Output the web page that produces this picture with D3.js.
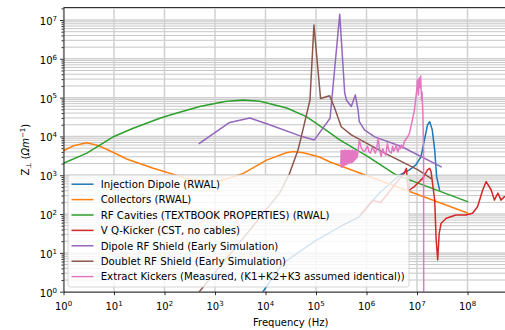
<!DOCTYPE html>
<html>
<head>
<meta charset="utf-8">
<script src="https://cdn.jsdelivr.net/npm/d3@7"></script>
<style>
  html, body { margin: 0; padding: 0; background: #fff; }
  svg { display: block; font-family: "DejaVu Sans", sans-serif; }
</style>
</head>
<body>
<svg id="chart" width="505" height="330"></svg>
<script>
// Transverse impedance budget: [frequency (Hz), Z_perp (Ohm/m)] per element

const injectionDipole = [
  [8.9e3, 1.0], [2.2e4, 5.4], [1.0e5, 21], [3.4e5, 52], [7.2e5, 85],
  [1.8e6, 350], [4.5e6, 1000], [7.1e6, 1380], [9.5e6, 1860], [1.2e7, 3000],
  [1.4e7, 8100], [1.62e7, 2.0e4], [1.78e7, 2.4e4], [2.0e7, 1.5e4],
  [2.24e7, 4500], [2.45e7, 910], [2.8e7, 420]
];

const collectors = [
  [1, 4270], [1.58, 5750], [2.9, 6900], [5.0, 5750], [10, 3800], [17.8, 2630],
  [60, 1510], [275, 830], [794, 690], [1260, 710], [3630, 1120], [1.05e4, 2450],
  [2.57e4, 3800], [3.55e4, 4070], [5.6e4, 3800], [1.17e5, 2950], [1.9e5, 2190],
  [1e8, 107]
];

const rfCavities = [
  [1, 2040], [2.9, 3720], [10, 1.0e4], [24, 1.62e4], [81, 2.95e4], [129, 3.55e4],
  [500, 5.9e4], [1585, 7.9e4], [3630, 8.7e4], [7760, 8.1e4], [2.63e4, 5.4e4],
  [6.46e4, 3.24e4], [1.58e5, 1.45e4], [2.95e5, 8130], [1.07e6, 3020],
  [3.63e6, 1070], [7.08e6, 760], [1e8, 209]
];

const vQKicker = [
  [7.9e5, 100], [1.32e6, 229], [1.9e6, 195], [4.0e6, 676], [5.6e6, 1150],
  [6.17e6, 1510], [6.6e6, 447], [7.08e6, 417], [8.9e6, 513], [1.29e7, 832],
  [1.62e7, 1380], [1.78e7, 1510], [1.9e7, 1230], [2.24e7, 229], [2.4e7, 21],
  [2.57e7, 6.6], [2.75e7, 32], [3.0e7, 58], [3.8e7, 78], [5.9e7, 95],
  [9.3e7, 95], [1.26e8, 105], [1.58e8, 155], [2.0e8, 417], [2.34e8, 690],
  [2.95e8, 417], [3.4e8, 229], [4.0e8, 347], [4.6e8, 229], [5.4e8, 282],
  [6.8e8, 251]
];

const dipoleShield = [
  [490, 6600], [1950, 2.29e4], [4900, 3.0e4], [1.2e4, 2.0e4], [5.5e4, 9770],
  [9.3e4, 8130], [1.9e5, 2.95e4], [2.95e5, 1.41e7], [3.7e5, 1.32e5],
  [4.0e5, 8.7e4], [5.0e5, 5.9e4], [6.0e5, 1.17e5], [6.8e5, 4.8e4],
  [7.2e5, 2.4e4], [9.1e5, 1.48e4], [1.45e6, 9770], [4.9e6, 5500], [3.0e7, 1660]
];

const doubletShield = [
  [490, 1.0], [1500, 6], [4900, 39], [1.9e4, 347], [3.0e4, 1120], [4.4e4, 4470],
  [5.1e4, 9770], [7.6e4, 8.7e4], [9.1e4, 7.4e6], [1.23e5, 9.5e4],
  [1.86e5, 1.12e5], [2.34e5, 5.4e4], [3.16e5, 1.78e4], [5.0e5, 1.1e4],
  [2.3e6, 3720], [1.05e7, 1380], [1.9e7, 832]
];

const extractKickers = [
  [3.1e5, 2000], [3.15e5, 4300], [3.2e5, 1600], [3.25e5, 4400], [3.3e5, 1700],
  [3.35e5, 4200], [3.4e5, 1650], [3.45e5, 4300], [3.5e5, 1650], [3.55e5, 3900],
  [3.6e5, 1750], [3.65e5, 4400], [3.7e5, 1800], [3.75e5, 4100], [3.8e5, 1900],
  [3.85e5, 4400], [3.9e5, 2000], [3.95e5, 3900], [4.0e5, 1900], [4.05e5, 4300],
  [4.1e5, 1900], [4.15e5, 4100], [4.2e5, 2000], [4.3e5, 4400], [4.35e5, 2100],
  [4.4e5, 4200], [4.5e5, 2000], [4.55e5, 4400], [4.65e5, 2100], [4.7e5, 4200],
  [4.8e5, 2200], [4.85e5, 4300], [4.95e5, 2200], [5.0e5, 4000], [5.1e5, 2100],
  [5.15e5, 4400], [5.25e5, 2200], [5.3e5, 4500], [5.4e5, 2300], [5.45e5, 4200],
  [5.55e5, 2300], [5.6e5, 4100], [5.7e5, 2400], [5.75e5, 4300], [5.85e5, 2500],
  [5.9e5, 4300], [6.0e5, 2600], [6.1e5, 4200], [6.2e5, 2700], [6.3e5, 4000],
  [6.4e5, 2800], [6.5e5, 3900], [6.6e5, 3000], [7.2e5, 8100], [7.9e5, 5000],
  [8.5e5, 4300], [9.1e5, 4070], [1.05e6, 5600], [1.12e6, 4000], [1.2e6, 3720],
  [1.3e6, 5200], [1.38e6, 4600], [1.5e6, 3720], [1.6e6, 5000], [1.7e6, 9100],
  [1.82e6, 4470], [1.95e6, 3020], [2.1e6, 4800], [2.2e6, 4070], [2.4e6, 3310],
  [2.6e6, 6600], [2.75e6, 4500], [2.9e6, 4000], [3.1e6, 3720], [3.3e6, 5600],
  [3.45e6, 4200], [3.6e6, 4470], [3.9e6, 6000], [4.05e6, 4500], [4.2e6, 4000],
  [4.5e6, 5400], [4.7e6, 4800], [4.9e6, 6000], [5.25e6, 5000], [5.6e6, 7400],
  [6.6e6, 1.0e4], [7.1e6, 1.23e4], [7.8e6, 2.1e4], [8.9e6, 4.8e4],
  [9.8e6, 1.4e5], [1.02e7, 2.9e5], [1.07e7, 1.17e5], [1.1e7, 3.2e5],
  [1.15e7, 1.8e5], [1.18e7, 3.6e5], [1.23e7, 8.7e4], [1.26e7, 1.4e5],
  [1.31e7, 3.5e4], [1.35e7, 4470], [1.36e7, 0.05]
];

const seriesNames = [
  "Injection Dipole (RWAL)",
  "Collectors (RWAL)",
  "RF Cavities (TEXTBOOK PROPERTIES) (RWAL)",
  "V Q-Kicker (CST, no cables)",
  "Dipole RF Shield (Early Simulation)",
  "Doublet RF Shield (Early Simulation)",
  "Extract Kickers (Measured, (K1+K2+K3 assumed identical))"
];
const seriesData = [injectionDipole, collectors, rfCavities, vQKicker,
                    dipoleShield, doubletShield, extractKickers];
const seriesColors = ["#1f77b4", "#ff7f0e", "#2ca02c", "#d62728",
                      "#9467bd", "#8c564b", "#e377c2"];

const xDecades = [1e0, 1e1, 1e2, 1e3, 1e4, 1e5, 1e6, 1e7, 1e8];
const yDecades = [1e0, 1e1, 1e2, 1e3, 1e4, 1e5, 1e6, 1e7];
const xDomain = [1, 1e9];
const yDomain = [1, 2.1e7];

// ---- layout ----
const svg = d3.select("#chart");
const pL = 63.5, pR = 518, pT = 7.5, pB = 291.7;

const x = d3.scaleLog().domain(xDomain).range([pL, pR]);
const y = d3.scaleLog().domain(yDomain).range([pB, pT]);

const yMinor = [];
yDecades.forEach(d => { for (let k = 2; k <= 9; k++) { const v = d * k; if (v <= yDomain[1]) yMinor.push(v); } });

// grid
const grid = svg.append("g");
grid.selectAll(".ym").data(yMinor).join("line")
  .attr("x1", pL).attr("x2", pR)
  .attr("y1", d => y(d)).attr("y2", d => y(d))
  .attr("stroke", "#b8b8b8").attr("stroke-width", 0.8);
grid.selectAll(".yM").data(yDecades).join("line")
  .attr("x1", pL).attr("x2", pR)
  .attr("y1", d => y(d)).attr("y2", d => y(d))
  .attr("stroke", "#d0d0d0").attr("stroke-width", 1.5);
grid.selectAll(".xM").data(xDecades).join("line")
  .attr("x1", d => x(d)).attr("x2", d => x(d))
  .attr("y1", pT).attr("y2", pB)
  .attr("stroke", "#d0d0d0").attr("stroke-width", 1.5);

// data lines
svg.append("clipPath").attr("id", "plotclip")
  .append("rect").attr("x", pL).attr("y", pT)
  .attr("width", pR - pL).attr("height", pB - pT);

const line = d3.line().x(d => x(d[0])).y(d => y(d[1]));
const plot = svg.append("g").attr("clip-path", "url(#plotclip)");
seriesData.forEach((data, i) => {
  plot.append("path").datum(data)
    .attr("d", line)
    .attr("fill", "none")
    .attr("stroke", seriesColors[i])
    .attr("stroke-width", 1.5)
    .attr("stroke-linejoin", "round")
    .attr("stroke-linecap", "square");
});

// axes
const xAxis = svg.append("g").attr("transform", `translate(0,${pB})`)
  .call(d3.axisBottom(x).tickValues(xDecades).tickSize(3.5).tickSizeOuter(0).tickFormat(""));
const yAxisMinor = svg.append("g").attr("transform", `translate(${pL},0)`)
  .call(d3.axisLeft(y).tickValues(yMinor).tickSize(2).tickSizeOuter(0).tickFormat(""));
const yAxis = svg.append("g").attr("transform", `translate(${pL},0)`)
  .call(d3.axisLeft(y).tickValues(yDecades).tickSize(3.5).tickSizeOuter(0).tickFormat(""));
[xAxis, yAxis, yAxisMinor].forEach(g => {
  g.selectAll("line").attr("stroke", "#000").attr("stroke-width", 0.8);
  g.select(".domain").attr("stroke", "#000").attr("stroke-width", 0.8);
});
yAxisMinor.select(".domain").remove();

// top spine
svg.append("line").attr("x1", pL).attr("x2", pR)
  .attr("y1", pT).attr("y2", pT)
  .attr("stroke", "#000").attr("stroke-width", 0.8);

// tick labels with superscript exponents
const exp = v => Math.round(Math.log10(v));
xDecades.forEach(v => {
  const t = svg.append("text")
    .attr("x", x(v)).attr("y", 310)
    .attr("text-anchor", "middle")
    .attr("font-size", 10).attr("fill", "#000");
  t.append("tspan").text("10");
  t.append("tspan").attr("dy", -4.2).attr("font-size", 7).text(exp(v));
});
yDecades.forEach(v => {
  const t = svg.append("text")
    .attr("x", 57).attr("y", y(v) + 5)
    .attr("text-anchor", "end")
    .attr("font-size", 10).attr("fill", "#000");
  t.append("tspan").text("10");
  t.append("tspan").attr("dy", -4.2).attr("font-size", 7).text(exp(v));
});

// axis titles
svg.append("text")
  .attr("x", (pL + pR) / 2).attr("y", 325.5)
  .attr("text-anchor", "middle").attr("font-size", 10).attr("fill", "#000")
  .text("Frequency (Hz)");

const yl = svg.append("text")
  .attr("transform", `translate(28.5,${(pT + pB) / 2}) rotate(-90)`)
  .attr("text-anchor", "middle").attr("font-size", 10).attr("fill", "#000");
yl.append("tspan").text("Z");
yl.append("tspan").attr("dy", 2).attr("font-size", 7).text("⊥");
yl.append("tspan").attr("dy", -2).text("  (");
yl.append("tspan").attr("font-style", "italic").text("Ωm");
yl.append("tspan").attr("dy", -4).attr("font-size", 7).text("−1");
yl.append("tspan").attr("dy", 4).text(")");

// legend
const lg = svg.append("g");
lg.append("rect")
  .attr("x", 68).attr("y", 175).attr("width", 341).attr("height", 112)
  .attr("rx", 2.5)
  .attr("fill", "#fff").attr("fill-opacity", 0.8)
  .attr("stroke", "#cccccc").attr("stroke-opacity", 0.8).attr("stroke-width", 1);
seriesNames.forEach((name, i) => {
  const cy = 184.2 + i * 15.4;
  lg.append("line")
    .attr("x1", 71.5).attr("x2", 93.5).attr("y1", cy).attr("y2", cy)
    .attr("stroke", seriesColors[i]).attr("stroke-width", 1.5);
  lg.append("text")
    .attr("x", 100.7).attr("y", cy + 3.7)
    .attr("font-size", 10.2).attr("fill", "#000")
    .text(name);
});
</script>
</body>
</html>
